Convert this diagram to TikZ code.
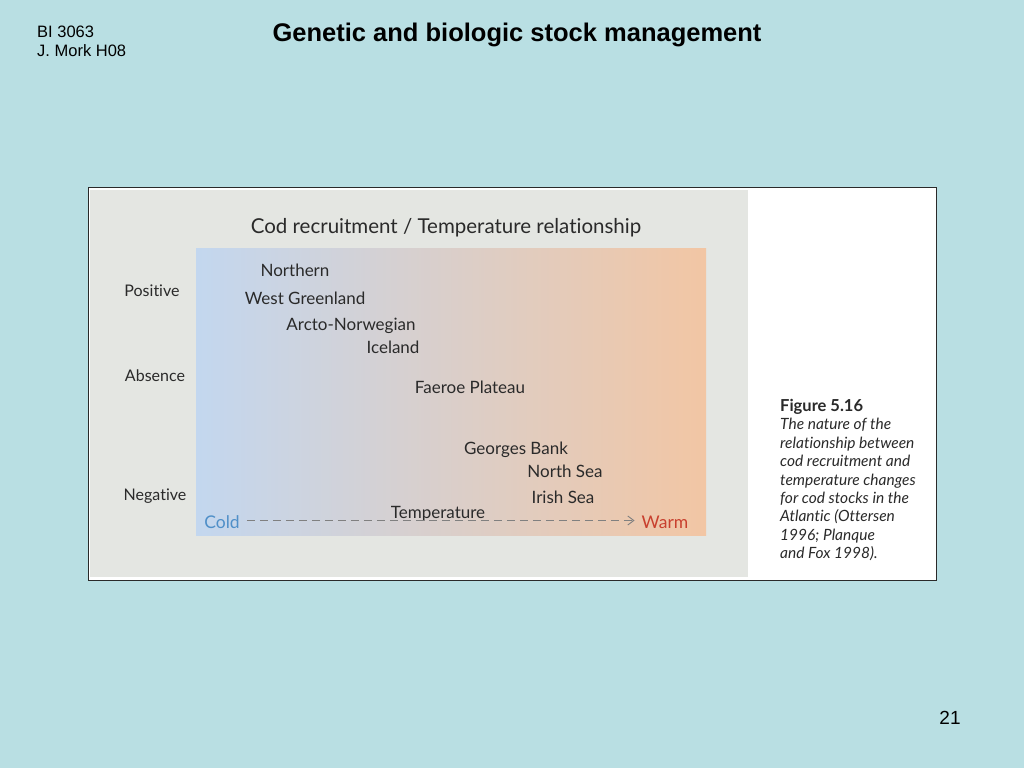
\documentclass[tikz,border=0pt]{standalone}
\usepackage{fontspec}
\setmainfont{Liberation Sans}
\newfontfamily\gillfont[Ligatures={TeX,NoCommon}]{Lato}
\usetikzlibrary{arrows.meta, positioning}
\definecolor{slideBg}{HTML}{B9DFE3}
\definecolor{panelGrey}{HTML}{E4E6E2}
\definecolor{coldBlue}{HTML}{C3D7EF}
\definecolor{midGrey}{HTML}{E0DDE0}
\definecolor{warmOrange}{HTML}{F2C6A4}
\definecolor{textCold}{HTML}{4F8FC8}
\definecolor{textWarm}{HTML}{C8402E}
\definecolor{inkDark}{HTML}{2A2A2A}

\begin{document}
\begin{tikzpicture}[x=1pt, y=-1pt, every node/.style={inner sep=0pt},
    slidetext/.style={font=\fontsize{16.5}{19}\selectfont, anchor=west},
    axislabel/.style={font=\gillfont\fontsize{16}{19}\selectfont, text=inkDark},
    stocklabel/.style={font=\gillfont\fontsize{17}{20}\selectfont, text=inkDark},
    endlabel/.style={font=\gillfont\fontsize{17.5}{20}\selectfont}]
  % slide background
  \fill[slideBg] (0,0) rectangle (1024,768);
  \useasboundingbox (0,0) rectangle (1024,768);
  \node[slidetext] (course) at (37,32) {BI 3063};
  \node[slidetext] (author) at (37,51) {J. Mork H08};
  \node[font=\bfseries\fontsize{25.5}{30}\selectfont] (title) at (517,35) {Genetic and biologic stock management};
  \node[font=\fontsize{19}{22}\selectfont] (page) at (950,718) {21};

  % scanned figure
  \draw[fill=white, draw=inkDark, line width=1pt] (88,187) rectangle (936,580);
  \fill[panelGrey] (90,190) rectangle (748,577);
  \shade[left color=coldBlue, middle color=midGrey, right color=warmOrange] (196,248) rectangle (706,535);

  \node[font=\gillfont\fontsize{20.5}{24}\selectfont, text=inkDark] (head) at (446,228) {Cod recruitment / Temperature relationship};
  \node[axislabel] (pos) at (152,291) {Positive};
  \node[axislabel] (abs) at (155,376) {Absence};
  \node[axislabel] (neg) at (155,496) {Negative};

  \node[stocklabel] (northern) at (295,270) {Northern};
  \node[stocklabel] (westgr) at (305,298) {West Greenland};
  \node[stocklabel] (arcto) at (351,326) {Arcto-Norwegian};
  \node[stocklabel] (iceland) at (393,347) {Iceland};
  \node[stocklabel] (faeroe) at (470,387) {Faeroe Plateau};
  \node[stocklabel] (georges) at (516,450) {Georges Bank};
  \node[stocklabel] (northsea) at (565,471) {North Sea};
  \node[stocklabel] (irish) at (563,497) {Irish Sea};
  \node[stocklabel] (temp) at (438,514) {Temperature};

  \node[endlabel, text=textCold] (cold) at (222,522) {Cold};
  \node[endlabel, text=textWarm] (warm) at (665,522) {Warm};
  \draw[gray, dashed, dash pattern=on 8pt off 5pt, line width=0.9pt, -{Straight Barb[length=6pt, width=9pt]}]
    ([xshift=7pt, yshift=1.5pt]cold.east) -- ([xshift=-7pt, yshift=1.5pt]warm.west);

  \node[anchor=north west, align=left, text=inkDark, font=\gillfont\fontsize{15.5}{18.4}\selectfont] (caption) at (780,399)
    {{\bfseries\fontsize{16.5}{18.4}\selectfont Figure 5.16}\\
     \itshape The nature of the\\
     \itshape relationship between\\
     \itshape cod recruitment and\\
     \itshape temperature changes\\
     \itshape for cod stocks in the\\
     \itshape Atlantic (Ottersen\\
     \itshape 1996; Planque\\
     \itshape and Fox 1998).};
\end{tikzpicture}
\end{document}
